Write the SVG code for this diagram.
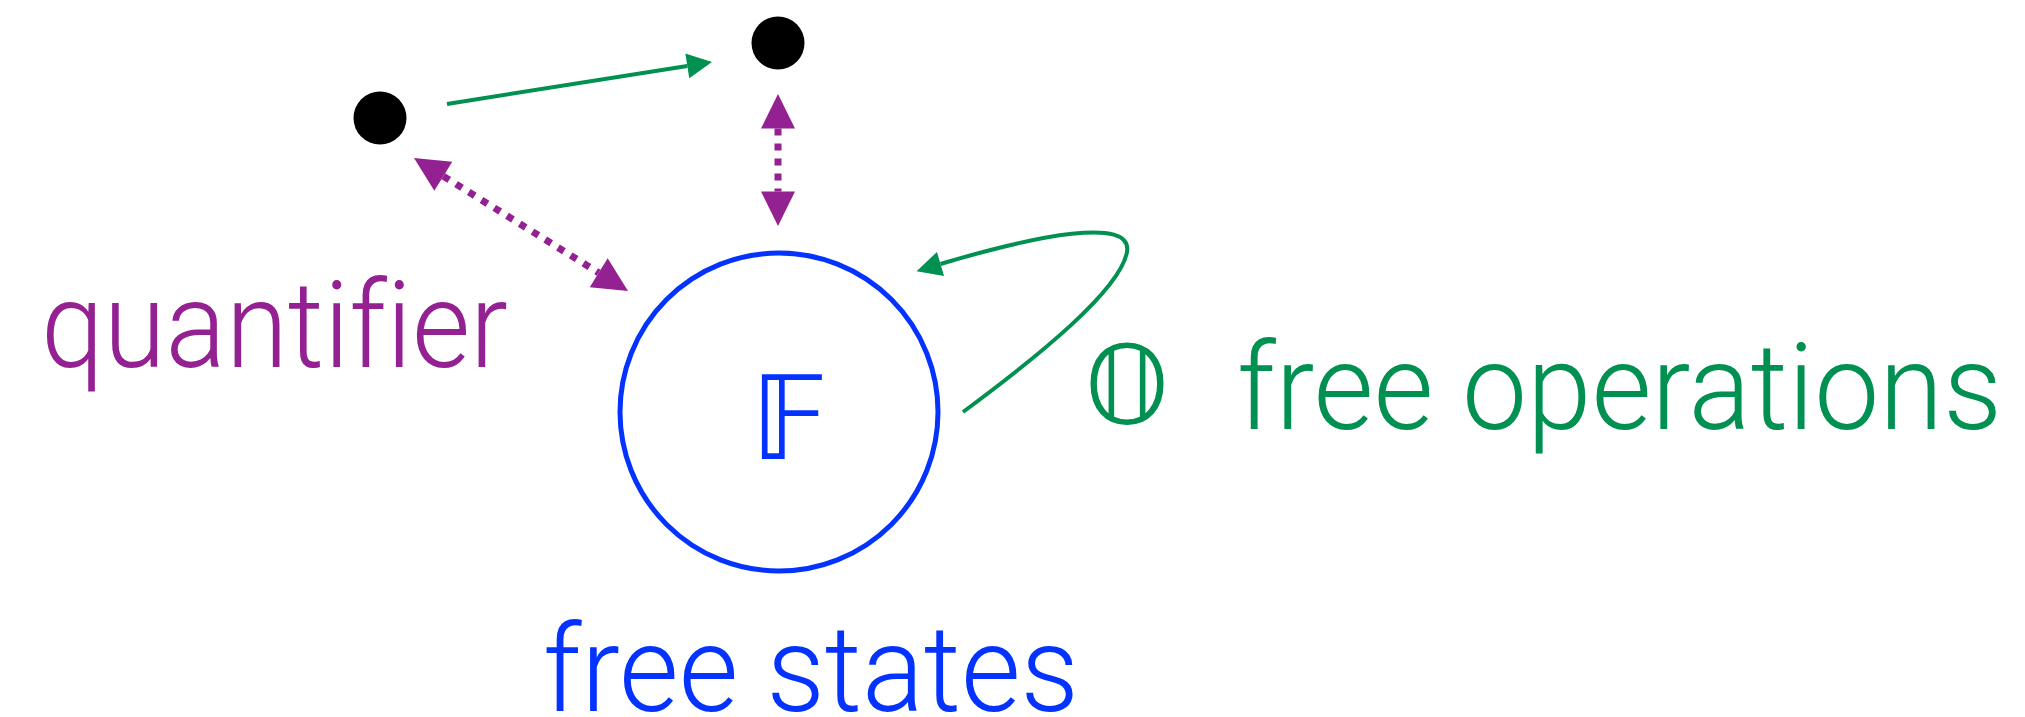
<svg xmlns="http://www.w3.org/2000/svg" width="2025" height="717" viewBox="0 0 2025 717">
  <style>
    .lbl { font-family: Roboto, "Liberation Sans", Arial, sans-serif; font-weight: 300; font-size: 120px; font-variant-ligatures: none; font-feature-settings: "liga" 0, "clig" 0; }
    .dot { fill: #000000; }
    .green { stroke: #009051; stroke-width: 4; fill: none; }
    .purple { stroke: #942192; stroke-width: 7; fill: none; stroke-dasharray: 7 8; }
    .math { font-family: "DejaVu Sans", "Noto Sans", sans-serif; }
  </style>
  <defs>
    <marker id="ag" markerUnits="userSpaceOnUse" markerWidth="26" markerHeight="26" refX="0" refY="12.5" orient="auto" overflow="visible">
      <path d="M0,0 L25,12.5 L0,25 Z" fill="#009051"/>
    </marker>
    <marker id="ap" markerUnits="userSpaceOnUse" markerWidth="36" markerHeight="36" refX="0" refY="17" orient="auto-start-reverse" overflow="visible">
      <path d="M0,0 L34.5,17 L0,34 Z" fill="#942192"/>
    </marker>
  </defs>
  <rect width="2025" height="717" fill="#ffffff"/>

  <g id="connectors">
    <path id="e-a-b" class="green" d="M447,104 L687.3,65.9" marker-end="url(#ag)"/>
    <path id="e-loop" class="green" d="M963,412 C1040,355 1120,290 1127,252 C1133,216 1036,235.5 940.5,264" marker-end="url(#ag)"/>
    <path id="e-a-F" class="purple" d="M443.3,176.2 L598.7,272.8" marker-start="url(#ap)" marker-end="url(#ap)"/>
    <path id="e-b-F" class="purple" d="M778,128.5 L778,191.5" marker-start="url(#ap)" marker-end="url(#ap)"/>
  </g>

  <g id="node-a">
    <circle class="dot" cx="380" cy="118" r="26.5"/>
  </g>
  <g id="node-b">
    <circle class="dot" cx="778" cy="43" r="26.5"/>
  </g>
  <g id="node-F">
    <circle cx="779" cy="412" r="159" fill="none" stroke="#0433FF" stroke-width="5"/>
    <text class="math" x="789.5" y="459" font-size="116" text-anchor="middle" fill="#0433FF">𝔽</text>
  </g>
  <g id="label-free-states">
    <text class="lbl" x="543" y="711" fill="#0433FF" textLength="536" lengthAdjust="spacingAndGlyphs">free states</text>
  </g>
  <g id="label-quantifier">
    <text class="lbl" x="41" y="367" fill="#942192" textLength="467" lengthAdjust="spacingAndGlyphs">quantifier</text>
  </g>
  <g id="label-free-operations">
    <text class="math" x="1127" y="423" font-size="108" text-anchor="middle" fill="#009051">𝕆</text>
    <text class="lbl" x="1237" y="429" fill="#009051" textLength="765" lengthAdjust="spacingAndGlyphs">free operations</text>
  </g>
</svg>
